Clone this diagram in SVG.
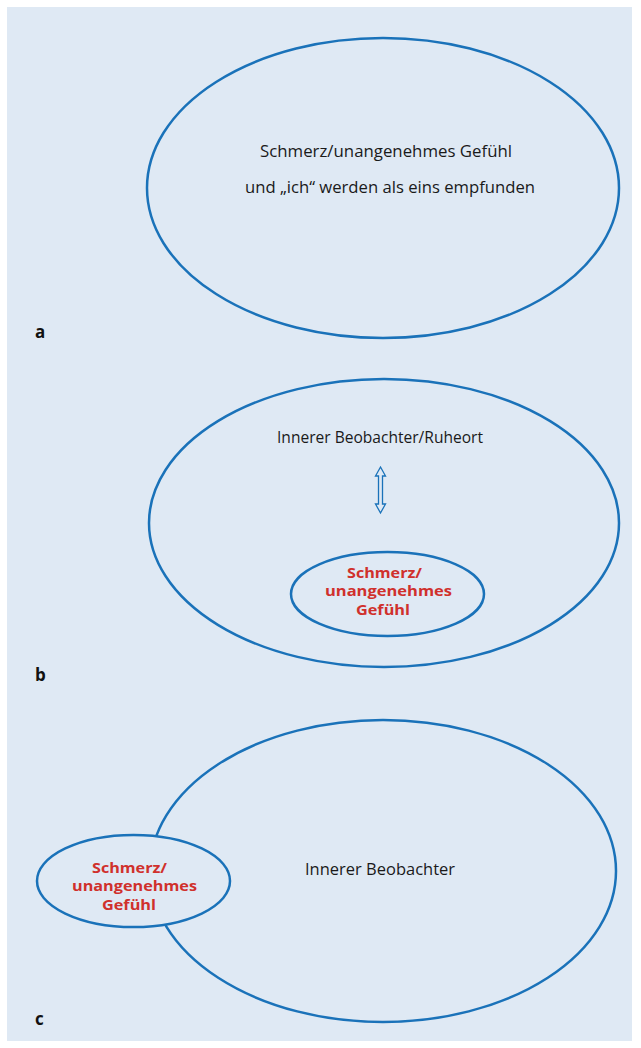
<svg xmlns="http://www.w3.org/2000/svg" width="641" height="1048" viewBox="0 0 641 1048">
<style>
.bg{fill:#dfe9f4}
.ell{fill:#dfe9f4;stroke:#1a72b9;stroke-width:2.5}
.t{font-family:"Open Sans","Noto Sans",sans-serif;font-size:15.5px;fill:#1a1a1a}
.r{font-family:"Open Sans","Noto Sans",sans-serif;font-size:14px;font-weight:bold;fill:#d0302c}
.lab{font-family:"Open Sans","Noto Sans",sans-serif;font-size:17px;font-weight:bold;fill:#111}
</style>
<rect class="bg" x="7" y="7" width="625" height="1034"/>
<g id="panel-a">
<ellipse class="ell" cx="383" cy="188" rx="236" ry="150"/>
<text class="t" x="260" y="157" textLength="252" lengthAdjust="spacingAndGlyphs">Schmerz/unangenehmes Gefühl</text>
<text class="t" x="245" y="193" textLength="290" lengthAdjust="spacingAndGlyphs">und „ich“ werden als eins empfunden</text>
<text class="lab" x="35" y="338">a</text>
</g>
<g id="panel-b">
<ellipse class="ell" cx="384" cy="523" rx="235" ry="144"/>
<text class="t" x="277" y="443" textLength="206" lengthAdjust="spacingAndGlyphs">Innerer Beobachter/Ruheort</text>
<g id="inner-b">
<ellipse class="ell" cx="387.5" cy="594" rx="96.5" ry="42"/>
<text class="r" x="347" y="578" textLength="75" lengthAdjust="spacingAndGlyphs">Schmerz/</text>
<text class="r" x="325" y="596" textLength="127" lengthAdjust="spacingAndGlyphs">unangenehmes</text>
<text class="r" x="356" y="615" textLength="54" lengthAdjust="spacingAndGlyphs">Gefühl</text>
</g>
<text class="lab" x="35" y="681">b</text>
</g>
<g id="connectors">
<path d="M380.5,467 L385.5,476 L382.5,476 L382.5,504 L385.5,504 L380.5,513 L375.5,504 L378.5,504 L378.5,476 L375.5,476 Z" fill="none" stroke="#1a72b9" stroke-width="1.3" stroke-linejoin="miter"/>
</g>
<g id="panel-c">
<ellipse class="ell" cx="383" cy="871" rx="233" ry="151"/>
<text class="t" x="305" y="875" textLength="150" lengthAdjust="spacingAndGlyphs">Innerer Beobachter</text>
<g id="inner-c">
<ellipse class="ell" cx="133.5" cy="881" rx="96.5" ry="46"/>
<text class="r" x="92" y="873" textLength="75" lengthAdjust="spacingAndGlyphs">Schmerz/</text>
<text class="r" x="72" y="891" textLength="125" lengthAdjust="spacingAndGlyphs">unangenehmes</text>
<text class="r" x="102" y="910" textLength="54" lengthAdjust="spacingAndGlyphs">Gefühl</text>
</g>
<text class="lab" x="35" y="1025">c</text>
</g>
</svg>
